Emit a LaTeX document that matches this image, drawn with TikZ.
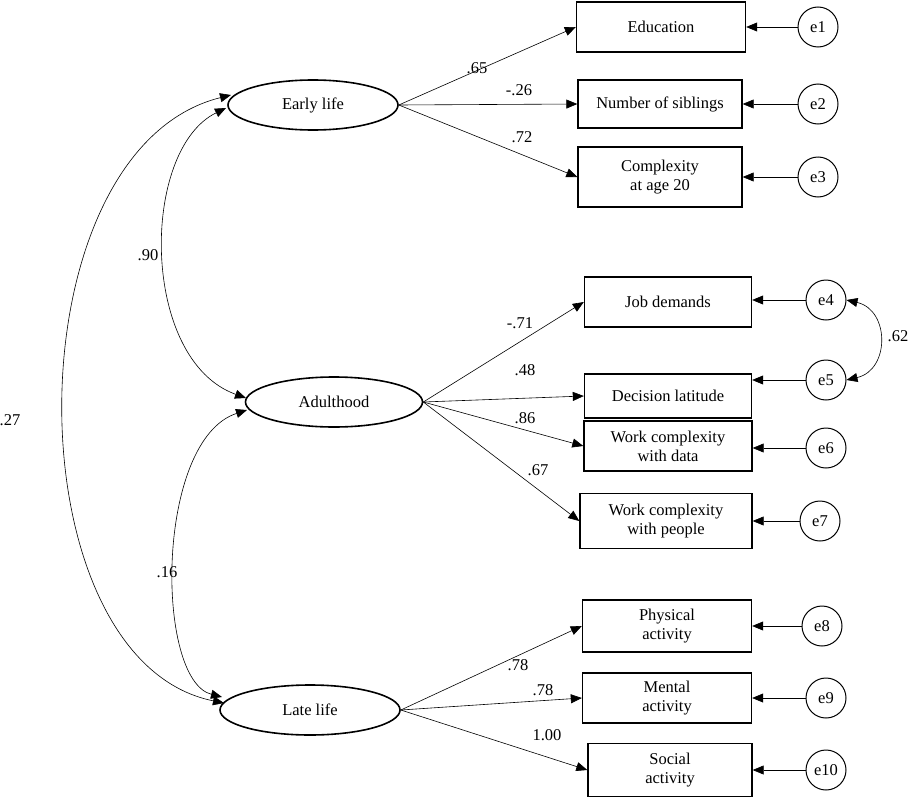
\documentclass[tikz,border=0pt]{standalone}
\usepackage{fontspec}
\setmainfont{Liberation Serif}
\usetikzlibrary{shapes.geometric,arrows.meta}
\begin{document}
\begin{tikzpicture}[x=1pt,y=-1pt,
 lat/.style={ellipse,draw,line width=1.6pt,minimum width=170pt,minimum height=50pt,font=\fontsize{16.5}{18}\selectfont},
 box/.style={draw,line width=1.4pt,minimum width=166pt,minimum height=50pt,align=center,font=\fontsize{16.5}{19}\selectfont,inner sep=1pt},
 err/.style={circle,draw,line width=1pt,minimum size=40pt,inner sep=0pt,font=\fontsize{16.5}{18}\selectfont},
 ar/.style={-{Triangle[length=11pt,width=9pt]},line width=0.6pt},
 cov/.style={{Triangle[length=11pt,width=9pt]}-{Triangle[length=11pt,width=9pt]},line width=0.6pt},
 lab/.style={font=\fontsize{16.5}{18}\selectfont}]
\useasboundingbox (0,0) rectangle (912,800);
\node[lat] (early) at (313,105) {Early life};
\node[lat,minimum width=177pt] (adult) at (334,402) {Adulthood};
\node[lat,minimum width=180pt] (late) at (310,710) {Late life};
\node[box,minimum width=169pt] (b1) at (661,27) {Education};
\node[box,minimum width=164pt,minimum height=48pt] (b2) at (660,104) {Number of siblings};
\node[box,minimum width=164pt,minimum height=60pt] (b3) at (660,177) {Complexity\\at age 20};
\node[box,minimum width=167pt] (b4) at (668,302) {Job demands};
\node[box,minimum width=167pt,minimum height=44pt] (b5) at (668,396) {Decision latitude};
\node[box,minimum width=168pt,minimum height=50pt] (b6) at (668,446) {Work complexity\\with data};
\node[box,minimum width=172pt,minimum height=55pt] (b7) at (666,521) {Work complexity\\with people};
\node[box,minimum width=169pt,minimum height=52pt] (b8) at (667,626) {Physical\\activity};
\node[box,minimum width=169pt] (b9) at (667,698) {Mental\\activity};
\node[box,minimum width=164pt,minimum height=53pt] (b10) at (670,770) {Social\\activity};
\node[err] (e1) at (818,27) {e1};
\node[err] (e2) at (818,104) {e2};
\node[err] (e3) at (818,177) {e3};
\node[err] (e4) at (826,300) {e4};
\node[err] (e5) at (826,380) {e5};
\node[err] (e6) at (826,448) {e6};
\node[err] (e7) at (820,521) {e7};
\node[err] (e8) at (822,626) {e8};
\node[err] (e9) at (826,698) {e9};
\node[err] (e10) at (826,770) {e10};
\foreach \b in {b1,b2,b3}{\draw[ar] (early.east) -- (\b.west);}
\foreach \b in {b4,b5,b6,b7}{\draw[ar] (adult.east) -- (\b.west);}
\foreach \b in {b8,b9,b10}{\draw[ar] (late.east) -- (\b.west);}
\foreach \i in {1,...,10}{\draw[ar] (e\i.west) -- (e\i.west -| b\i.east);}
\coordinate (ea) at (231,95);
\coordinate (aa) at (247,410);
\coordinate (la) at (224,703);
\coordinate (ea2) at (226,108);
\coordinate (ad2) at (246,398);
\coordinate (la2) at (222,697);
\draw[cov] (ea2) .. controls (140,150) and (140,360) .. (ad2);
\draw[cov] (ea) .. controls (10,150) and (10,660) .. (la);
\draw[cov] (aa) .. controls (155,440) and (155,680) .. (la2);
\draw[cov] (e4.east) .. controls (890,310) and (890,370) .. (e5.east);
\node[lab] (l1) at (477,68) {.65};
\node[lab] (l2) at (519,90) {-.26};
\node[lab] (l3) at (522,137) {.72};
\node[lab] (l4) at (148,255) {.90};
\node[lab] (l5) at (10,420) {.27};
\node[lab] (l6) at (167,572) {.16};
\node[lab] (l7) at (520,323) {-.71};
\node[lab] (l8) at (525,370) {.48};
\node[lab] (l9) at (525,418) {.86};
\node[lab] (l10) at (538,470) {.67};
\node[lab] (l11) at (898,336) {.62};
\node[lab] (l12) at (518,665) {.78};
\node[lab] (l13) at (543,690) {.78};
\node[lab] (l14) at (547,735) {1.00};
\end{tikzpicture}
\end{document}
